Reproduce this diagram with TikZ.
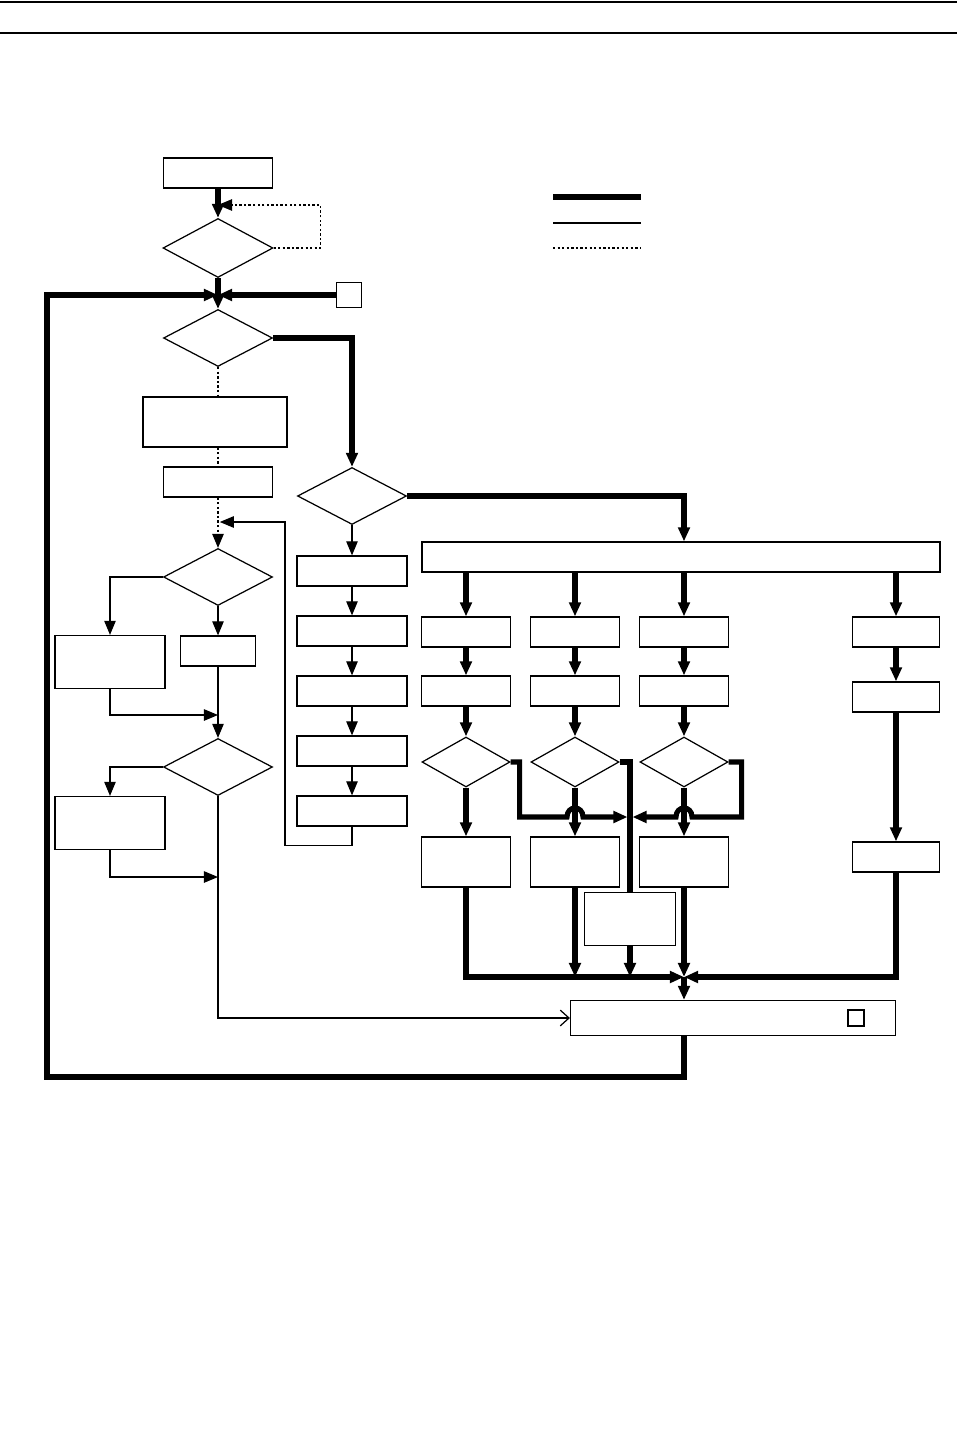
\documentclass[tikz,border=0pt]{standalone}
\usetikzlibrary{arrows.meta,shapes.geometric}

\begin{document}
\begin{tikzpicture}[x=0.02cm,y=-0.02cm,
  box/.style={draw,line width=0.7pt,inner sep=0pt,minimum width=2.2cm,minimum height=0.6cm},
  dmd/.style={draw,shape=diamond,line width=0.7pt,inner sep=0pt,minimum width=2.18cm,minimum height=1.14cm},
  thk/.style={line width=2.9pt},
  thn/.style={line width=0.7pt},
  dot/.style={line width=0.8pt,dash pattern=on 1.3pt off 1.3pt},
  >={Triangle[length=8pt,width=6.5pt]}]
\useasboundingbox (0,0) rectangle (957,1456);
\draw[line width=1.7pt] (0,2) -- (957,2);
\draw[line width=1.7pt] (0,33) -- (957,33);

\node[box,minimum width=2.18cm] (n0) at (218,173) {};
\node[dmd,minimum width=2.2cm,minimum height=1.18cm] (d1) at (218,248) {};
\node[box,minimum width=0.5cm,minimum height=0.5cm] (sq1) at (349,295) {};
\node[dmd] (d2) at (218,338) {};
\node[box,minimum width=2.88cm,minimum height=1cm] (n1) at (215,422) {};
\node[box,minimum width=2.18cm] (n2) at (218,482) {};
\node[dmd] (d3) at (352,496) {};
\node[box,minimum width=10.36cm] (w) at (681,557) {};
\foreach \i/\y in {1/571,2/631,3/691,4/751,5/811}
  \node[box] (b\i) at (352,\y) {};
\node[dmd] (d4) at (218,577) {};
\node[box,minimum height=1.06cm] (l1) at (110,662) {};
\node[box,minimum width=1.5cm] (m1) at (218,651) {};
\node[dmd] (d5) at (218,767) {};
\node[box,minimum height=1.06cm] (l2) at (110,823) {};
\foreach \c/\x in {p/466,q/575,r/684} {
  \node[box,minimum width=1.78cm] (\c1) at (\x,632) {};
  \node[box,minimum width=1.78cm] (\c2) at (\x,691) {};
  \node[dmd,minimum width=1.76cm,minimum height=1cm] (\c0) at (\x,762) {};
  \node[box,minimum width=1.78cm,minimum height=1cm] (\c3) at (\x,862) {};
}
\node[box,minimum width=1.74cm] (s1) at (896,632) {};
\node[box,minimum width=1.74cm] (s2) at (896,697) {};
\node[box,minimum width=1.74cm] (s3) at (896,857) {};
\node[box,minimum width=1.82cm,minimum height=1.06cm] (h) at (630,919) {};
\node[box,minimum width=6.5cm,minimum height=0.7cm] (z) at (733,1018) {};
\node[box,minimum width=0.32cm,minimum height=0.32cm] (sq2) at (856,1018) {};

\coordinate (j0) at (218,205);
\coordinate (j1) at (218,295);
\coordinate (j2) at (218,522);
\coordinate (j3) at (218,715);
\coordinate (j4) at (218,877);
\coordinate (m) at (630,817);
\coordinate (h1) at (575,817);
\coordinate (h2) at (684,817);
\coordinate (jz) at (684,977);
\coordinate (lp) at (47,1077);

\draw[thk,->] (n0.south) -- (d1.north);
\draw[dot,->] (d1.east) -- ++(47,0) |- (j0);
\draw[thk,->] (d1.south) -- (d2.north);
\draw[thk,->] (sq1.west) -- (j1);
\draw[thk,->] (jz |- z.south) |- (lp) |- (j1);
\draw[thk,->] (d2.east) -| (d3.north);
\draw[dot] (d2.south) -- (d2.south |- n1.north);
\draw[dot] (n1.south -| n2.north) -- (n2.north);
\draw[dot,->] (n2.south) -- (d4.north);
\draw[thk,->] (d3.east) -| (w.north -| jz);
\draw[thn,->] (d3.south) -- (b1.north);
\foreach \i [count=\j from 2] in {1,...,4}
  \draw[thn,->] (b\i.south) -- (b\j.north);
\draw[thn,->,shorten >=1pt] (b5.south) -- ++(0,19) -- ++(-67,0) |- (j2);

\foreach \c in {p,q,r,s} {
  \draw[thk,->] (w.south -| \c1.north) -- (\c1.north);
  \draw[thk,->] (\c1.south) -- (\c2.north);
}
\draw[thk,->] (s2.south) -- (s3.north);
\foreach \c in {p,q,r} {
  \draw[thk,->] (\c2.south) -- (\c0.north);
  \draw[thk,->] (\c0.south) -- (\c3.north);
}
\draw[thk,->,shorten >=1.4pt] (p0.east) -- ++(9,0) |- ([xshift=-0.16cm]h1)
  .. controls +(0,-12) and +(0,-12) .. ([xshift=0.16cm]h1) -- (m);
\draw[thk] (q0.east) -| (h.north);
\draw[thk,->,shorten >=1.4pt] (r0.east) -- ++(13,0) |- ([xshift=0.16cm]h2)
  .. controls +(0,-12) and +(0,-12) .. ([xshift=-0.16cm]h2) -- (m);
\draw[thk,->] (p3.south) |- (jz);
\draw[thk,->] (q3.south) -- (q3.south |- jz);
\draw[thk,->] (h.south) -- (h.south |- jz);
\draw[thk,->] (r3.south) -- (jz);
\draw[thk,->] (s3.south) |- (jz);
\draw[thk,->] (jz) -- (z.north -| jz);

\draw[thn,->] (d4.west) -| (l1.north);
\draw[thn,->] (d4.south) -- (m1.north);
\draw[thn,->] (m1.south) -- (d5.north);
\draw[thn,->] (l1.south) |- (j3);
\draw[thn,->] (d5.west) -| (l2.north);
\draw[thn,->] (l2.south) |- (j4);
\draw[thn,-{Straight Barb[length=5pt,width=9pt]}] (d5.south) |- (z.west);

\draw[line width=3.2pt] (553,197) -- (641,197);
\draw[thn] (553,223) -- (641,223);
\draw[dot] (553,248) -- (641,248);
\end{tikzpicture}
\end{document}
